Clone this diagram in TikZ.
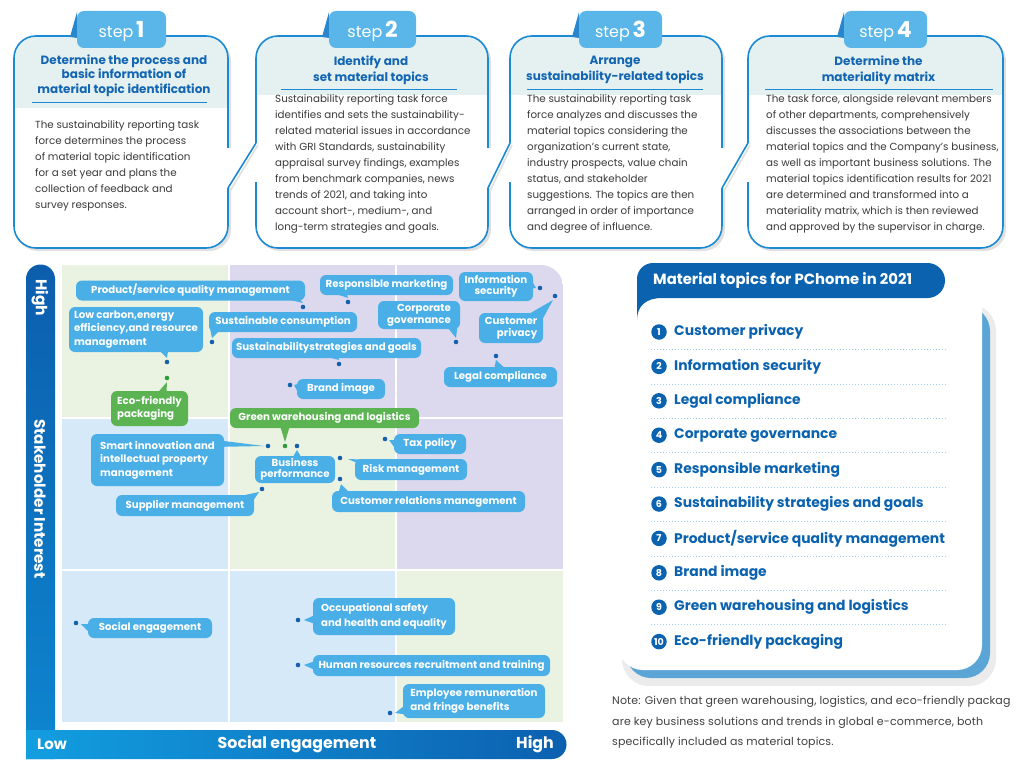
\documentclass[tikz,border=0pt]{standalone}
\usepackage{fontspec}
\setmainfont{Poppins}
\usetikzlibrary{calc}
\definecolor{framec}{HTML}{1A8AD4}
\definecolor{tabc}{HTML}{5AB6E8}
\definecolor{tabfold}{HTML}{2A86CC}
\definecolor{hdrc}{HTML}{E4F1F0}
\definecolor{titlec}{HTML}{1466B3}
\definecolor{bodyc}{HTML}{3A3A3A}
\definecolor{bubc}{HTML}{4AAFE6}
\definecolor{gbubc}{HTML}{5BB352}
\definecolor{dotc}{HTML}{1560AD}
\definecolor{gdotc}{HTML}{2E9A3A}
\definecolor{darkb}{HTML}{0B63B0}
\definecolor{sepc}{HTML}{9ED0F0}
\definecolor{cgreen}{HTML}{EAF3E1}
\definecolor{cpurp}{HTML}{DCD9EE}
\definecolor{cblue}{HTML}{D5E9F8}
\definecolor{shblue}{HTML}{5AA5D6}
\definecolor{notec}{HTML}{404040}
\definecolor{ybartop}{HTML}{0C5EAD}
\definecolor{ybarbot}{HTML}{0E86D0}
\definecolor{xbarleft}{HTML}{129EE0}
\definecolor{xbarright}{HTML}{0C60B0}

\newcommand\stepframe[3]{%
  \fill[black!12,rounded corners=22pt] (#1+2,39) rectangle (#2+3,251);
  \fill[white,rounded corners=22pt] (#1,36) rectangle (#2,248);
  \begin{scope}
    \clip[rounded corners=22pt] (#1,36) rectangle (#2,248);
    \fill[hdrc] (#1,36) rectangle (#2,#3);
  \end{scope}
  \draw[boxframe,rounded corners=22pt] (#1,36) rectangle (#2,248);
}
\newcommand\junction[2]{%
  \fill[white] (#1-3,148) rectangle (#1+4,188);
  \fill[white] (#2-4,143) rectangle (#2+3,182);
  \draw[black!12,line width=1.6pt] (#2+2,145) -- (#1+2,191);
  \draw[boxframe] (#2,143) -- (#1,188);
}
\newcommand\steptab[3]{%
  \fill[tabfold] (#1,37) -- (#1+7,12) -- (#1+7,38) -- cycle;
  \fill[tabc,rounded corners=7pt] (#1+7,11) rectangle (#2,48);
  \node[anchor=base,text=white,inner sep=0pt,font=\fontsize{16}{16}\selectfont] (tab#3) at ({(#1+7+#2)/2},38) {step\,{\bfseries\fontsize{22}{22}\selectfont #3}};
}

\begin{document}
\begin{tikzpicture}[x=1pt,y=-1pt,
  boxframe/.style={draw=framec,line width=1.6pt},
  titlet/.style={text=titlec,font=\bfseries\fontsize{12}{14.5}\selectfont,align=center,inner sep=0pt},
  bodyt/.style={text=bodyc,font=\fontsize{10.3}{16}\selectfont,align=left,inner sep=0pt,anchor=north west},
  uline/.style={draw=framec,line width=0.8pt},
  bub/.style={fill=bubc,rounded corners=6pt,text=white,font=\bfseries\fontsize{10.2}{13.5}\selectfont,inner sep=0pt,align=center},
  gbub/.style={bub,fill=gbubc},
  dotb/.style={circle,fill=dotc,inner sep=0pt,minimum size=4.6pt},
  dotg/.style={dotb,fill=gdotc},
  numc/.style={circle,fill=darkb,text=white,inner sep=0pt,minimum size=15.5pt,font=\bfseries\fontsize{9.5}{9.5}\selectfont},
  itemt/.style={text=darkb,font=\bfseries\fontsize{13.9}{15}\selectfont,inner sep=0pt,anchor=west},
  sepline/.style={draw=sepc,line width=0.8pt,dash pattern=on 1pt off 2pt},
  axt/.style={text=white,font=\bfseries\fontsize{15.5}{15.5}\selectfont,inner sep=0pt},
  notet/.style={text=notec,font=\fontsize{11}{20.5}\selectfont\addfontfeature{LetterSpace=1.2},align=left,inner sep=0pt,anchor=north west}
]
\useasboundingbox (0,0) rectangle (1024,765);
\fill[white] (0,0) rectangle (1024,765);

% ---------- step boxes ----------
\stepframe{14}{228}{108}
\stepframe{256}{488}{95}
\stepframe{510}{722}{95}
\stepframe{748}{1003}{95}
\junction{228}{256}
\junction{488}{510}
\junction{722}{748}
\steptab{70}{166}{1}
\steptab{322}{416}{2}
\steptab{572}{662}{3}
\steptab{837}{927}{4}

\node[titlet] (t1) at (124,75.5) {Determine the process and\\basic information of\\material topic identification};
\draw[uline] (32,102) -- (207,102);
\node[bodyt] (p1) at (35,120) {The sustainability reporting task\\force determines the process\\of material topic identification\\for a set year and plans the\\collection of feedback and\\survey responses.};

\node[titlet,font=\bfseries\fontsize{12}{16}\selectfont] (t2) at (371,70) {Identify and\\set material topics};
\draw[uline] (281,89) -- (457,89);
\node[bodyt] (p2) at (275,94) {Sustainability reporting task force\\identifies and sets the sustainability-\\related material issues in accordance\\with GRI Standards, sustainability\\appraisal survey findings, examples\\from benchmark companies, news\\trends of 2021, and taking into\\account short-, medium-, and\\long-term strategies and goals.};

\node[titlet,font=\bfseries\fontsize{12}{16}\selectfont] (t3) at (615,70) {Arrange\\sustainability-related topics};
\draw[uline] (527,89) -- (703,89);
\node[bodyt] (p3) at (527,94) {The sustainability reporting task\\force analyzes and discusses the\\material topics considering the\\organization's current state,\\industry prospects, value chain\\status, and stakeholder\\suggestions. The topics are then\\arranged in order of importance\\and degree of influence.};

\node[titlet,font=\bfseries\fontsize{12}{16}\selectfont] (t4) at (878.5,70) {Determine the\\materiality matrix};
\draw[uline] (765,89) -- (993,89);
\node[bodyt] (p4) at (766,94) {The task force, alongside relevant members\\of other departments, comprehensively\\discusses the associations between the\\material topics and the Company's business,\\as well as important business solutions. The\\material topics identification results for 2021\\are determined and transformed into a\\materiality matrix, which is then reviewed\\and approved by the supervisor in charge.};

% ---------- matrix ----------
\begin{scope}
  \clip (62,722) -- (62,265) -- (541,265) arc[start angle=90,end angle=0,radius=22pt] -- (563,722) -- cycle;
  \fill[cgreen] (62,265) rectangle (229,418);
  \fill[cpurp] (229,265) rectangle (563,418);
  \fill[cblue] (62,418) rectangle (229,570);
  \fill[cgreen] (229,418) rectangle (396,570);
  \fill[cpurp] (396,418) rectangle (563,570);
  \fill[cblue] (62,570) rectangle (396,722);
  \fill[cgreen] (396,570) rectangle (563,722);
  \draw[white,line width=2pt] (229,265) -- (229,722) (396,265) -- (396,722) (62,418) -- (563,418) (62,570) -- (563,570);
\end{scope}

\shade[top color=ybartop,bottom color=ybarbot] (26,759) -- (26,279) arc[start angle=180,end angle=0,radius=14.5pt] -- (55,759) -- cycle;
\shade[left color=xbarleft,right color=xbarright] (26,730) -- (552,730) arc[start angle=90,end angle=-90,radius=14.5pt] -- (26,759) -- cycle;
\node[axt,rotate=-90] (yhigh) at (40,298) {High};
\node[axt,rotate=-90,font=\bfseries\fontsize{15.2}{15.2}\selectfont] (ylab) at (40,499) {Stakeholder Interest};
\node[axt,font=\bfseries\fontsize{15}{15}\selectfont] (xlow) at (52,744) {Low};
\node[axt,font=\bfseries\fontsize{15.8}{15.8}\selectfont] (xlab) at (297,744) {Social engagement};
\node[axt,font=\bfseries\fontsize{15.8}{15.8}\selectfont] (xhigh) at (535,744) {High};

% bubbles
\node[bub,minimum width=229pt,minimum height=20pt] (b1) at (190.5,290.5) {Product/service quality management};
\node[dotb] (d1) at (303,307) {};
\fill[bubc] ($(b1.south east)+(-16,-1)$) -- ($(b1.south east)+(-5,-1)$) -- ($(d1)+(0,-4)$) -- cycle;

\node[bub,minimum width=134pt,minimum height=45pt,align=left] (b2) at (136,329.5) {Low carbon,energy\\efficiency,and resource\\management};
\node[dotb] (d2) at (167,362) {};
\fill[bubc] ($(b2.south)+(24,-1)$) -- ($(b2.south)+(32,-1)$) -- ($(d2)+(0,-4)$) -- cycle;

\node[gbub,minimum width=77pt,minimum height=35pt,align=left] (b3) at (149.5,408.5) {Eco-friendly\\packaging};
\node[dotg] (d3) at (167,378) {};
\fill[gbubc] ($(b3.north)+(9,1)$) -- ($(b3.north)+(17,1)$) -- ($(d3)+(0,4)$) -- cycle;

\node[bub,minimum width=148pt,minimum height=20pt] (b4) at (283,322) {Sustainable consumption};
\node[dotb] (d4) at (212,342) {};
\fill[bubc] ($(b4.south west)+(1,-5)$) -- ($(b4.south west)+(10,-1)$) -- ($(d4)+(0,-4)$) -- cycle;

\node[bub,minimum width=189pt,minimum height=20pt] (b5) at (326.5,348) {Sustainabilitystrategies and goals};
\node[dotb] (d5) at (339,364) {};
\fill[bubc] ($(b5.south)+(2,-1)$) -- ($(b5.south)+(12,-1)$) -- ($(d5)+(0,-4)$) -- cycle;

\node[bub,minimum width=88pt,minimum height=20pt] (b6) at (341,389) {Brand image};
\node[dotb] (d6) at (290,385) {};
\fill[bubc] ($(b6.west)+(1,-5)$) -- ($(b6.west)+(1,3)$) -- ($(d6)+(4,0)$) -- cycle;

\node[bub,minimum width=133pt,minimum height=20pt] (b7) at (386.5,285) {Responsible marketing};
\node[dotb] (d7) at (348,302) {};
\fill[bubc] ($(b7.south west)+(17,-1)$) -- ($(b7.south west)+(27,-1)$) -- ($(d7)+(0,-4)$) -- cycle;

\node[bub,minimum width=74pt,minimum height=29pt,font=\bfseries\fontsize{10.2}{10.5}\selectfont] (b8) at (496,286.5) {Information\\security};
\node[dotb] (d8) at (540,288) {};
\fill[bubc] ($(b8.east)+(-1,-5)$) -- ($(b8.east)+(-1,2)$) -- ($(d8)+(-4,0)$) -- cycle;

\node[bub,minimum width=82pt,minimum height=28pt,align=right,font=\bfseries\fontsize{10.2}{12}\selectfont] (b9) at (419,315) {Corporate\\governance};
\node[dotb] (d9) at (456,342) {};
\fill[bubc] ($(b9.south east)+(-12,-1)$) -- ($(b9.south east)+(-3,-1)$) -- ($(d9)+(0,-4)$) -- cycle;

\node[bub,minimum width=64pt,minimum height=30pt,align=right,font=\bfseries\fontsize{10.2}{12}\selectfont] (b10) at (511,328) {Customer\\privacy};
\node[dotb] (d10) at (555,296) {};
\fill[bubc] ($(b10.north east)+(-14,1)$) -- ($(b10.north east)+(-1,7)$) -- ($(d10)+(-2,4)$) -- cycle;

\node[bub,minimum width=113pt,minimum height=20pt] (b11) at (500.5,377) {Legal compliance};
\node[dotb] (d11) at (496,356) {};
\fill[bubc] ($(b11.north)+(-6,1)$) -- ($(b11.north)+(4,1)$) -- ($(d11)+(0,4)$) -- cycle;

\node[gbub,minimum width=189pt,minimum height=20pt] (b12) at (324.5,418) {Green warehousing and logistics};
\node[dotg] (dG) at (285,446) {};
\node[dotb] (dL) at (268,446) {};
\node[dotb] (dR) at (297,446) {};
\fill[gbubc] ($(b12.south)+(-44,-1)$) -- ($(b12.south)+(-35,-1)$) -- ($(dG)+(0,-4)$) -- cycle;

\node[bub,minimum width=133pt,minimum height=52pt,align=left] (b14) at (157.5,460) {Smart innovation and\\intellectual property\\management};
\fill[bubc] ($(b14.north east)+(-2,7)$) -- ($(b14.north east)+(-2,13)$) -- ($(dL)+(-4,0)$) -- cycle;

\node[bub,minimum width=80pt,minimum height=27pt,font=\bfseries\fontsize{10.2}{11}\selectfont] (b15) at (295,469.5) {Business\\performance};
\fill[bubc] ($(b15.north)+(-2,1)$) -- ($(b15.north)+(6,1)$) -- ($(dR)+(0,4)$) -- cycle;

\node[bub,minimum width=138pt,minimum height=21pt] (b16) at (185,505.5) {Supplier management};
\node[dotb] (d16) at (262,489) {};
\fill[bubc] ($(b16.north east)+(-13,1)$) -- ($(b16.north east)+(-1,6)$) -- ($(d16)+(-3,3)$) -- cycle;

\node[bub,minimum width=72pt,minimum height=20pt] (b17) at (430,444) {Tax policy};
\node[dotb] (d17) at (385,439) {};
\fill[bubc] ($(b17.west)+(1,-4)$) -- ($(b17.west)+(1,4)$) -- ($(d17)+(4,1)$) -- cycle;

\node[bub,minimum width=112pt,minimum height=21pt] (b18) at (411,469.5) {Risk management};
\node[dotb] (d18) at (340,458) {};
\fill[bubc] ($(b18.north west)+(2,4)$) -- ($(b18.north west)+(14,1)$) -- ($(d18)+(8,1)$) -- cycle;

\node[bub,minimum width=193pt,minimum height=21pt] (b19) at (428.5,501.5) {Customer relations management};
\node[dotb] (d19) at (340,479) {};
\fill[bubc] ($(b19.north west)+(7,1)$) -- ($(b19.north west)+(17,1)$) -- ($(d19)+(1,5)$) -- cycle;

\node[bub,minimum width=124pt,minimum height=20pt] (b20) at (150,628) {Social engagement};
\node[dotb] (d20) at (76,623) {};
\fill[bubc] ($(b20.west)+(1,-4)$) -- ($(b20.west)+(1,4)$) -- ($(d20)+(5,1)$) -- cycle;

\node[bub,minimum width=142pt,minimum height=37pt,align=left,font=\bfseries\fontsize{10.2}{14.5}\selectfont] (b21) at (384,616.5) {Occupational safety\\and health and equality};
\node[dotb] (d21) at (298,620) {};
\fill[bubc] ($(b21.west)+(1,-1)$) -- ($(b21.west)+(1,7)$) -- ($(d21)+(6,0)$) -- cycle;

\node[bub,minimum width=237pt,minimum height=21pt] (b22) at (431.5,665.5) {Human resources recruitment and training};
\node[dotb] (d22) at (298,665) {};
\fill[bubc] ($(b22.west)+(1,-4)$) -- ($(b22.west)+(1,4)$) -- ($(d22)+(6,0)$) -- cycle;

\node[bub,minimum width=142pt,minimum height=34pt,align=left,font=\bfseries\fontsize{10.2}{14}\selectfont] (b23) at (474,701) {Employee remuneration\\and fringe benefits};
\node[dotb] (d23) at (390,713) {};
\fill[bubc] ($(b23.south west)+(1,-12)$) -- ($(b23.south west)+(1,-4)$) -- ($(d23)+(5,0)$) -- cycle;

% ---------- right panel ----------
\fill[black!8,rounded corners=27pt] (622,304) rectangle (996,686);
\fill[shblue,rounded corners=25pt] (626,306) rectangle (990,678);
\fill[white] (618,323) arc[start angle=180,end angle=90,radius=25pt] -- (982,298) -- (982,645) arc[start angle=0,end angle=-90,radius=25pt] -- (643,670) arc[start angle=270,end angle=180,radius=25pt] -- cycle;
\fill[darkb] (637,320) -- (637,279) arc[start angle=180,end angle=90,radius=16pt] -- (927.5,263) arc[start angle=90,end angle=-90,radius=17.5pt] -- (662,298) .. controls (646,298) and (637,306) .. (637,320) -- cycle;
\node[anchor=west,text=white,font=\bfseries\fontsize{14.8}{16}\selectfont,inner sep=0pt] (mt) at (653,281) {Material topics for PChome in 2021};

\foreach \i in {1,...,9}{
  \draw[sepline] (651,{349.5+(\i-1)*34.4}) -- (946,{349.5+(\i-1)*34.4});
}
\foreach \t [count=\i] in {Customer privacy,Information security,Legal compliance,Corporate governance,Responsible marketing,Sustainability strategies and goals,Product/service quality management,Brand image,Green warehousing and logistics,Eco-friendly packaging}{
  \node[numc] (n\i) at (659,{332+(\i-1)*34.4}) {\i};
  \node[itemt] (it\i) at (674,{332+(\i-1)*34.4}) {\t};
}

\node[notet] (note) at (612,696) {Note: Given that green warehousing, logistics, and eco-friendly packag\\are key business solutions and trends in global e-commerce, both\\specifically included as material topics.};
\end{tikzpicture}
\end{document}
